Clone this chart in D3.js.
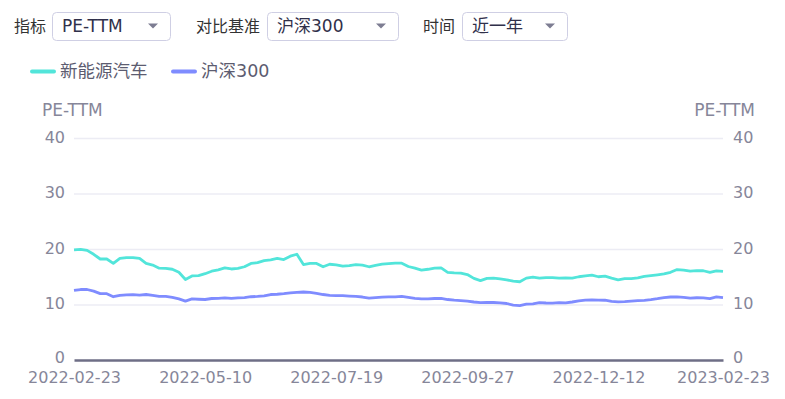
<!DOCTYPE html>
<html>
<head>
<meta charset="utf-8">
<script src="https://cdnjs.cloudflare.com/ajax/libs/d3/7.8.5/d3.min.js"></script>
<style>
  html, body { margin: 0; padding: 0; background: #fff; }
  body { width: 785px; height: 399px; overflow: hidden; }
</style>
</head>
<body>
<div id="graphic"></div>
<script>
// series sampled evenly along the trading-day axis (100 points)
var seriesNames = ["新能源汽车", "沪深300"],
    seriesColors = ["#52e5da", "#7f8cff"];

var nevPE = [
    19.85, 19.95, 19.75, 19.05, 18.2, 18.2, 17.4, 18.3, 18.45, 18.45,
    18.3, 17.4, 17.1, 16.55, 16.5, 16.35, 15.8, 14.5, 15.15, 15.2,
    15.55, 16.0, 16.25, 16.6, 16.4, 16.5, 16.8, 17.4, 17.55, 17.9,
    18.05, 18.3, 18.1, 18.7, 19.05, 17.2, 17.4, 17.4, 16.8, 17.25,
    17.15, 16.9, 17.0, 17.2, 17.1, 16.8, 17.05, 17.27, 17.38, 17.45,
    17.45, 16.85, 16.55, 16.2, 16.35, 16.55, 16.6, 15.8, 15.7, 15.65,
    15.4, 14.7, 14.3, 14.7, 14.74, 14.6, 14.45, 14.2, 14.1, 14.75,
    14.95, 14.75, 14.85, 14.86, 14.75, 14.8, 14.75, 15.0, 15.15, 15.28,
    15.0, 15.1, 14.75, 14.45, 14.65, 14.65, 14.8, 15.05, 15.2, 15.35,
    15.5, 15.8, 16.3, 16.2, 16.0, 16.1, 16.08, 15.8, 16.05, 15.95
];

var hs300PE = [
    12.55, 12.7, 12.7, 12.4, 11.95, 11.95, 11.4, 11.65, 11.75, 11.78,
    11.7, 11.8, 11.65, 11.45, 11.48, 11.3, 11.0, 10.6, 11.0, 10.95,
    10.9, 11.08, 11.12, 11.2, 11.1, 11.2, 11.25, 11.4, 11.45, 11.55,
    11.8, 11.85, 11.95, 12.1, 12.2, 12.25, 12.18, 12.0, 11.8, 11.65,
    11.6, 11.6, 11.52, 11.45, 11.35, 11.15, 11.25, 11.33, 11.37, 11.37,
    11.45, 11.28, 11.12, 11.0, 11.0, 11.08, 11.12, 10.9, 10.78, 10.7,
    10.6, 10.45, 10.34, 10.38, 10.36, 10.29, 10.18, 9.9, 9.8, 10.05,
    10.12, 10.33, 10.27, 10.25, 10.33, 10.3, 10.45, 10.65, 10.78, 10.82,
    10.8, 10.77, 10.55, 10.48, 10.52, 10.6, 10.68, 10.76, 10.88, 11.05,
    11.25, 11.35, 11.37, 11.3, 11.15, 11.22, 11.18, 11.05, 11.37, 11.25
];

var dateLabels = ["2022-02-23", "2022-05-10", "2022-07-19", "2022-09-27", "2022-12-12", "2023-02-23"],
    dateLabelIdx = [0, 20, 40, 60, 80, 99],
    yTicks = [0, 10, 20, 30, 40],
    axisName = "PE-TTM";

var controlLabels = ["指标", "对比基准", "时间"],
    controlValues = ["PE-TTM", "沪深300", "近一年"];

var FONT = "'DejaVu Sans', 'Noto Sans CJK SC', sans-serif",
    CJK = "'Noto Sans CJK SC', 'DejaVu Sans', sans-serif";


function drawChart() {

    var W = 785,
        H = 399;

    var margin = {
        top: 138,
        right: 62,
        bottom: 39,
        left: 74
    };

    var width = W - margin.left - margin.right,
        height = H - margin.top - margin.bottom;

    d3.select("#graphic").selectAll("*").remove();

    var root = d3.select("#graphic").append("svg")
        .attr("width", W)
        .attr("height", H)
        .style("font-family", FONT);

    // top dropdowns
    var ctrl = [
        { lx: 14, bx: 52, bw: 118 },
        { lx: 196, bx: 267, bw: 131 },
        { lx: 423, bx: 462, bw: 105 }
    ];

    var ctl = root.append("g").attr("class", "controls");
    ctrl.forEach(function (c, i) {
        ctl.append("text")
            .attr("x", c.lx)
            .attr("y", 26)
            .attr("dy", "0.35em")
            .attr("font-size", 16)
            .attr("fill", "#333")
            .style("font-family", CJK)
            .text(controlLabels[i]);
        ctl.append("rect")
            .attr("x", c.bx + 0.5)
            .attr("y", 12.5)
            .attr("width", c.bw)
            .attr("height", 28)
            .attr("rx", 4)
            .attr("fill", "#fff")
            .attr("stroke", "#cfcfe4");
        ctl.append("text")
            .attr("x", c.bx + 10)
            .attr("y", 26)
            .attr("dy", "0.35em")
            .attr("font-size", 17)
            .attr("fill", "#30304a")
            .text(controlValues[i]);
        var ax = c.bx + c.bw - 22;
        ctl.append("path")
            .attr("d", "M" + ax + ",23.5 L" + (ax + 10) + ",23.5 L" + (ax + 5) + ",28.5 Z")
            .attr("fill", "#7d7d92");
    });

    // legend
    var leg = root.append("g").attr("class", "legend");
    var legX = [32, 173];
    seriesNames.forEach(function (n, i) {
        leg.append("line")
            .attr("x1", legX[i])
            .attr("x2", legX[i] + 22)
            .attr("y1", 71.5)
            .attr("y2", 71.5)
            .attr("stroke", seriesColors[i])
            .attr("stroke-width", 4)
            .attr("stroke-linecap", "round");
        leg.append("text")
            .attr("x", legX[i] + 28)
            .attr("y", 71)
            .attr("dy", "0.35em")
            .attr("font-size", 17.5)
            .attr("fill", "#5c5c70")
            .text(n);
    });

    var svg = root.append("g")
        .attr("transform", "translate(" + margin.left + "," + margin.top + ")");

    var x = d3.scaleLinear()
        .domain([0, nevPE.length - 1])
        .range([0, width]);

    var y = d3.scaleLinear()
        .domain([0, 40])
        .range([height, 0]);

    // gridlines
    svg.append("g")
        .selectAll("line")
        .data(yTicks.filter(function (d) { return d > 0; }))
        .enter().append("line")
        .attr("x1", 0)
        .attr("x2", width)
        .attr("y1", function (d) { return y(d) + 0.5; })
        .attr("y2", function (d) { return y(d) + 0.5; })
        .attr("stroke", "#ececf4")
        .attr("stroke-width", 1.5);

    // y axes (left + right)
    var yLeft = d3.axisLeft(y).tickValues(yTicks).tickSize(0).tickPadding(9);
    var yRight = d3.axisRight(y).tickValues(yTicks).tickSize(0).tickPadding(10);

    var gl = svg.append("g").call(yLeft);
    var gr = svg.append("g").attr("transform", "translate(" + width + ",0)").call(yRight);
    [gl, gr].forEach(function (g) {
        g.select(".domain").remove();
        g.selectAll("text")
            .attr("font-size", 16)
            .attr("dy", function (d) { return d === 0 ? "0.18em" : "0.28em"; })
            .attr("fill", "#868699")
            .style("font-family", FONT);
    });

    svg.append("text")
        .attr("x", -32)
        .attr("y", -28)
        .attr("dy", "0.35em")
        .attr("font-size", 17)
        .attr("fill", "#868699")
        .text(axisName);

    svg.append("text")
        .attr("x", width + 32)
        .attr("y", -28)
        .attr("dy", "0.35em")
        .attr("text-anchor", "end")
        .attr("font-size", 17)
        .attr("fill", "#868699")
        .text(axisName);

    // lines
    var line = d3.line()
        .x(function (d, i) { return x(i); })
        .y(function (d) { return y(d); });

    [nevPE, hs300PE].forEach(function (s, i) {
        svg.append("path")
            .datum(s)
            .attr("fill", "none")
            .attr("stroke", seriesColors[i])
            .attr("stroke-width", 2.8)
            .attr("stroke-linejoin", "round")
            .attr("d", line);
    });

    // x axis
    var xAxis = d3.axisBottom(x)
        .tickValues(dateLabelIdx)
        .tickFormat(function (d, i) { return dateLabels[i]; })
        .tickSize(0)
        .tickPadding(11.5);

    var gx = svg.append("g")
        .attr("transform", "translate(0," + height + ")")
        .call(xAxis);

    gx.select(".domain")
        .attr("stroke", "#6e6e86")
        .attr("stroke-width", 2.5);

    gx.selectAll("text")
        .attr("font-size", 16)
        .attr("fill", "#868699")
        .style("font-family", FONT);
}

drawChart();
</script>
</body>
</html>
